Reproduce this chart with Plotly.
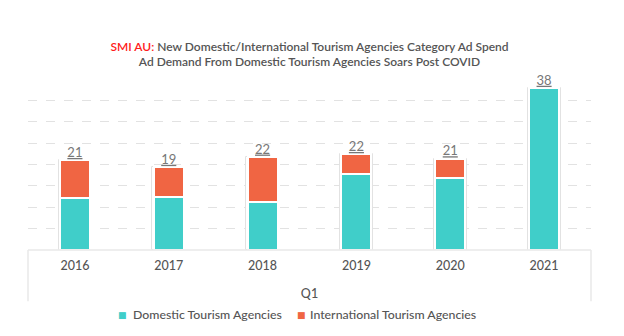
import plotly.graph_objects as go

# Q1 ad spend by tourism agency type (AUD millions)
years = ["2016", "2017", "2018", "2019", "2020", "2021"]
domestic = [12.1, 12.5, 11.3, 17.7, 16.8, 37.9]
international = [8.9, 6.9, 10.5, 4.7, 4.6, 0.0]
series_names = ["Domestic Tourism Agencies", "International Tourism Agencies"]

totals = [d + i for d, i in zip(domestic, international)]
total_labels = [f"<u>{round(t)}</u>" for t in totals]

TEAL = "#40cec9"
ORANGE = "#f06543"
GREY_TXT = "#555555"
FONT = "Lato"

fig = go.Figure()

# soft outline behind each stacked column
fig.add_trace(go.Bar(
    x=years, y=totals, width=0.35,
    marker=dict(color="white", line=dict(color="#e2e2e2", width=1)),
    showlegend=False, hoverinfo="skip",
))
fig.add_trace(go.Bar(
    x=years, y=domestic, width=0.32, name=series_names[0],
    marker=dict(color=TEAL, line=dict(color="white", width=2)),
    showlegend=False,
))
fig.add_trace(go.Bar(
    x=years, y=international, base=domestic, width=0.32, name=series_names[1],
    marker=dict(color=ORANGE, line=dict(color="white", width=2)),
    showlegend=False,
))
# total labels above columns
fig.add_trace(go.Scatter(
    x=years, y=totals, mode="text", text=total_labels,
    textposition="top center",
    textfont=dict(family=FONT, size=13, color="#777777"),
    cliponaxis=False, showlegend=False, hoverinfo="skip",
))

fig.update_layout(
    width=624, height=336,
    margin=dict(l=28, r=33, t=79, b=86, autoexpand=False),
    paper_bgcolor="white", plot_bgcolor="white",
    barmode="overlay", bargap=0, showlegend=False,
    font=dict(family=FONT, color=GREY_TXT),
    title=dict(
        text="<span style='color:#ff1a1a'>SMI AU:</span> New Domestic/International Tourism Agencies Category Ad Spend"
             "<br>Ad Demand From Domestic Tourism Agencies Soars Post COVID",
        x=0.5, xref="paper", xanchor="center",
        y=0.849, yref="container", yanchor="middle",
        font=dict(family=FONT, size=12, color=GREY_TXT, weight=600),
    ),
    xaxis=dict(
        showgrid=False, zeroline=False, showline=False,
        ticks="outside", ticklen=4, tickcolor="rgba(0,0,0,0)",
        tickfont=dict(family=FONT, size=12.5, color=GREY_TXT, weight=500),
        title=dict(text="Q1", font=dict(family=FONT, size=12.5, color=GREY_TXT, weight=500),
                   standoff=17),
    ),
    yaxis=dict(
        range=[0, 40], dtick=5, showticklabels=False,
        showgrid=True, gridcolor="#e2e2e2", griddash="dash", gridwidth=1,
        zeroline=False, showline=False,
    ),
)

# legend drawn as colored squares with labels beneath the axis box
legend_items = [(series_names[0], TEAL, 0.167, 0.183),
                (series_names[1], ORANGE, 0.485, 0.497)]
for name, col, xs, xt in legend_items:
    fig.add_annotation(xref="paper", yref="paper", x=xs, y=-0.38,
                       text="■", showarrow=False, xanchor="center", yanchor="middle",
                       font=dict(family="DejaVu Sans", size=9, color=col))
    fig.add_annotation(xref="paper", yref="paper", x=xt, y=-0.38,
                       text=name, showarrow=False, xanchor="left", yanchor="middle",
                       font=dict(family=FONT, size=12.3, color=GREY_TXT, weight=500))

# category box framing the x axis labels
box = dict(type="line", xref="paper", yref="paper", line=dict(color="#e8e8e8", width=1.5))
fig.add_shape(**box, x0=0, x1=1, y0=0, y1=0)
fig.add_shape(**box, x0=0, x1=0, y0=0, y1=-0.3)
fig.add_shape(**box, x0=1, x1=1, y0=0, y1=-0.3)

fig.write_html("out.html")
